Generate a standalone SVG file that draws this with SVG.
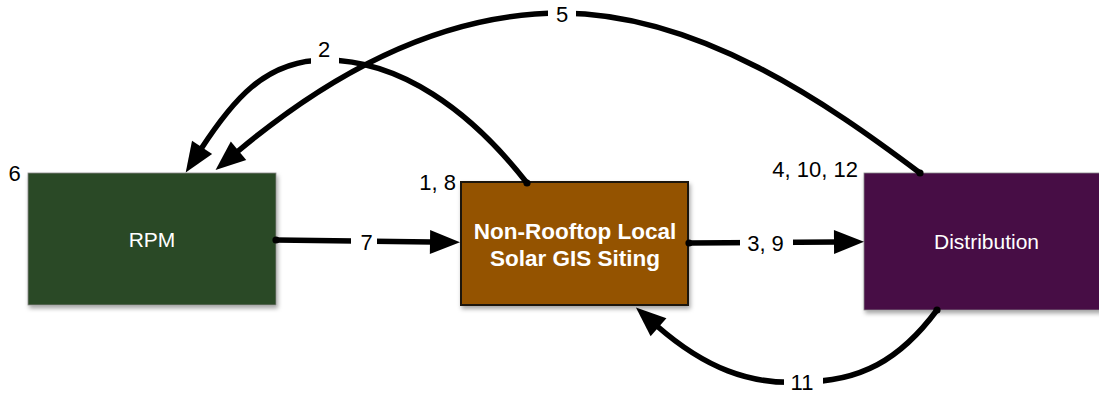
<svg xmlns="http://www.w3.org/2000/svg" width="1099" height="393" viewBox="0 0 1099 393">
<style>
.lbl{font-family:"Liberation Sans",Arial,sans-serif;font-size:22px;fill:#000}
.ntx{font-family:"Liberation Sans",Arial,sans-serif;font-size:21px;fill:#fff;text-anchor:middle}
.ntb{font-family:"Liberation Sans",Arial,sans-serif;font-size:22.5px;font-weight:bold;fill:#fff;text-anchor:middle}
.conn{fill:none;stroke:#000;stroke-width:5.5;marker-start:url(#dot)}
.arr{marker-end:url(#ah)}
.gap{fill:#fff}
</style>
<defs>
<filter id="sh" x="-10%" y="-10%" width="130%" height="130%">
<feDropShadow dx="1.5" dy="3" stdDeviation="2" flood-color="#000" flood-opacity="0.35"/>
</filter>
<marker id="ah" markerUnits="userSpaceOnUse" markerWidth="32" markerHeight="26" refX="2" refY="12" orient="auto" overflow="visible"><path d="M0,0 L30,12 L0,24 Z" fill="#000"/></marker>
<marker id="dot" markerUnits="userSpaceOnUse" markerWidth="8" markerHeight="8" refX="4" refY="4" overflow="visible"><circle cx="4" cy="4" r="3.6" fill="#000"/></marker>
</defs>
<rect width="1099" height="393" fill="#fff"/>
<g id="node-rpm">
<rect x="28" y="173" width="248" height="132" fill="#2c4825" stroke="#8a8a8a" stroke-width="0.8" filter="url(#sh)"/>
<text class="ntx" x="152" y="247">RPM</text>
</g>
<g id="node-siting">
<rect x="461" y="182" width="227" height="123" fill="#945200" stroke="#1a1208" stroke-width="2" filter="url(#sh)"/>
<text class="ntb" x="575" y="239">Non-Rooftop Local</text>
<text class="ntb" x="575" y="266">Solar GIS Siting</text>
</g>
<g id="node-distribution">
<rect x="864" y="173" width="245" height="137" fill="#470745" stroke="#8a8a8a" stroke-width="0.8" filter="url(#sh)"/>
<text class="ntx" x="986.5" y="249">Distribution</text>
</g>
<g id="connectors">
<path id="c7" class="conn arr" d="M276,240 L432,242"/>
<path id="c39" class="conn arr" d="M689,243 L836,242"/>
<path id="c2" class="conn arr" d="M527,183 C470,110 400,60 325,60 C264,60 231,103 201,149"/>
<path id="c5" class="conn arr" d="M920,173 C828,104 700,14 562,13 C430,13 318,84 237,152"/>
<path id="c11" class="conn arr" d="M937,310 C900,360 860,382 801,382 C750,385 705,368 657,326"/>
</g>
<g id="labels">
<rect class="gap" x="351" y="228" width="26" height="26"/>
<text class="lbl" x="366.5" y="250" text-anchor="middle">7</text>
<rect class="gap" x="740" y="228" width="53" height="28"/>
<text class="lbl" x="765.5" y="250.5" text-anchor="middle">3, 9</text>
<rect class="gap" x="311" y="38" width="28" height="30"/>
<text class="lbl" x="324" y="57" text-anchor="middle">2</text>
<rect class="gap" x="548" y="0" width="28" height="28"/>
<text class="lbl" x="562" y="22" text-anchor="middle">5</text>
<rect class="gap" x="784" y="368" width="39" height="25"/>
<text class="lbl" x="802" y="390" text-anchor="middle">11</text>
<text class="lbl" x="14.5" y="181" text-anchor="middle">6</text>
<text class="lbl" x="456" y="190" text-anchor="end">1, 8</text>
<text class="lbl" x="858" y="177" text-anchor="end">4, 10, 12</text>
</g>
</svg>
